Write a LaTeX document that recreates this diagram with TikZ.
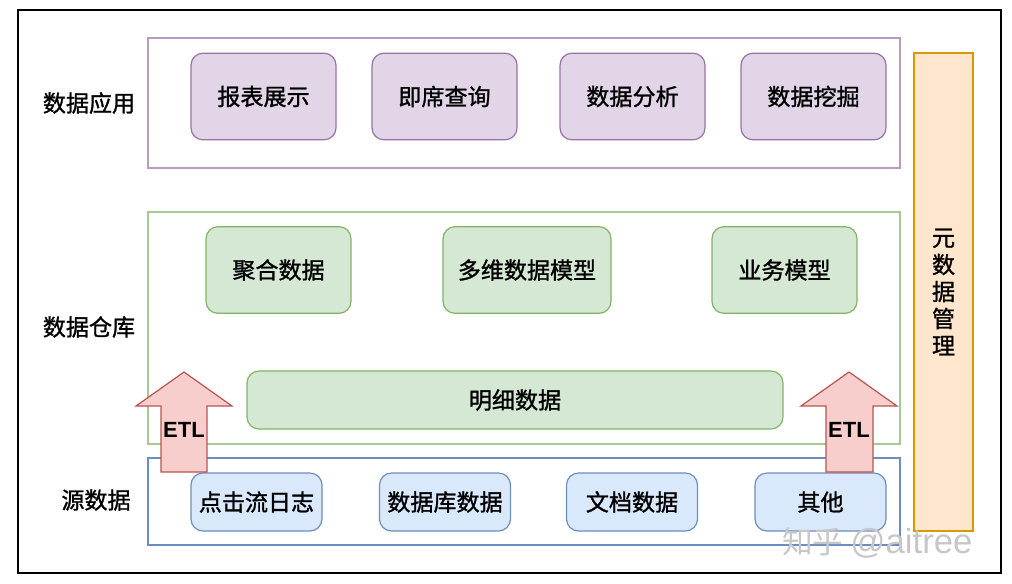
\documentclass[tikz,border=0pt]{standalone}
\usepackage{fontspec}
\setmainfont{Noto Sans CJK SC}[FakeBold=1.2]
\newfontfamily\etlfont{Liberation Sans}
\newfontfamily\markfont{Noto Sans CJK SC}
\usepackage{xcolor}
\usetikzlibrary{positioning}

\definecolor{appfill}{HTML}{E1D5E7}
\definecolor{appline}{HTML}{9673A6}
\definecolor{dwfill}{HTML}{D5E8D4}
\definecolor{dwline}{HTML}{82B366}
\definecolor{srcfill}{HTML}{DAE8FC}
\definecolor{srcline}{HTML}{6C8EBF}
\definecolor{metafill}{HTML}{FFE6CC}
\definecolor{metaline}{HTML}{D79B00}
\definecolor{etlfill}{HTML}{F8CECC}
\definecolor{etlline}{HTML}{B85450}

\tikzset{
  cell/.style={rounded corners=9pt, line width=0.9pt, inner sep=0pt,
    minimum height=65pt, font=\fontsize{17.3}{19}\selectfont},
  appbox/.style={cell, draw=appline, fill=appfill, minimum width=108.75pt},
  dwbox/.style={cell, draw=dwline, fill=dwfill, minimum width=108.75pt},
  srcbox/.style={cell, draw=srcline, fill=srcfill, minimum width=98.25pt, minimum height=43.5pt},
  layer/.style={line width=0.8pt},
  layerlabel/.style={font=\fontsize{17.3}{19}\selectfont},
  etlarrow/.style={fill=etlfill, draw=etlline, line width=0.9pt},
  etltext/.style={font=\etlfont\bfseries\fontsize{16.5}{18}\selectfont, inner sep=0pt}
}

\begin{document}
\begin{tikzpicture}[x=0.75pt,y=-0.75pt]
    \useasboundingbox (0,0) rectangle (1012,583);
    \draw[line width=1.3pt] (18,10) rectangle (1001,573);

    % layers
    \draw[layer, draw=appline!70] (148,38) rectangle (900,168);
    \draw[layer, draw=dwline!70] (148,212) rectangle (900,444);
    \draw[layer, draw=srcline] (148,458) rectangle (900,545);

    \node[layerlabel] (lapp) at (89,103) {数据应用};
    \node[layerlabel] (ldw) at (89,327) {数据仓库};
    \node[layerlabel] (lsrc) at (96,500) {源数据};

    % data application
    \node[appbox] (report) at (263.5,96.5) {报表展示};
    \node[appbox] (query) at (444.5,96.5) {即席查询};
    \node[appbox] (analysis) at (632.5,96.5) {数据分析};
    \node[appbox] (mining) at (813.5,96.5) {数据挖掘};

    % data warehouse
    \node[dwbox] (aggr) at (278.5,270) {聚合数据};
    \node[dwbox, minimum width=126pt] (cube) at (527,270) {多维数据模型};
    \node[dwbox] (bizmodel) at (784.5,270) {业务模型};
    \node[dwbox, minimum width=402pt, minimum height=43.5pt] (detail) at (515,400) {明细数据};

    % source data
    \node[srcbox] (click) at (256.5,502) {点击流日志};
    \node[srcbox] (dbdata) at (445,502) {数据库数据};
    \node[srcbox] (docdata) at (632,502) {文档数据};
    \node[srcbox] (other) at (820.5,502) {其他};

    % metadata
    \node[draw=metaline, fill=metafill, line width=0.9pt, minimum width=44.25pt,
      minimum height=358.5pt, inner sep=0pt] (meta) at (943.5,292) {};
    \node[align=center, font=\fontsize{17.3}{20.25}\selectfont] (metatext) at (meta.center)
      {元\\数\\据\\管\\理};

    % ETL arrows
    \filldraw[etlarrow] (184,372) -- (232,406) -- (207,406) -- (207,472) -- (161,472)
      -- (161,406) -- (136,406) -- cycle;
    \filldraw[etlarrow] (849,372) -- (897,406) -- (873,406) -- (873,472) -- (826,472)
      -- (826,406) -- (801,406) -- cycle;
    \node[etltext] (etlleft) at (184,430) {ETL};
    \node[etltext] (etlright) at (849,430) {ETL};

    % watermark
    \node[text=black!22, font=\markfont\fontsize{23}{26}\selectfont, anchor=west, inner sep=0pt] (mark) at (782,543)
      {知乎 {\etlfont\fontsize{26}{26}\selectfont @aitree}};
\end{tikzpicture}
\end{document}
